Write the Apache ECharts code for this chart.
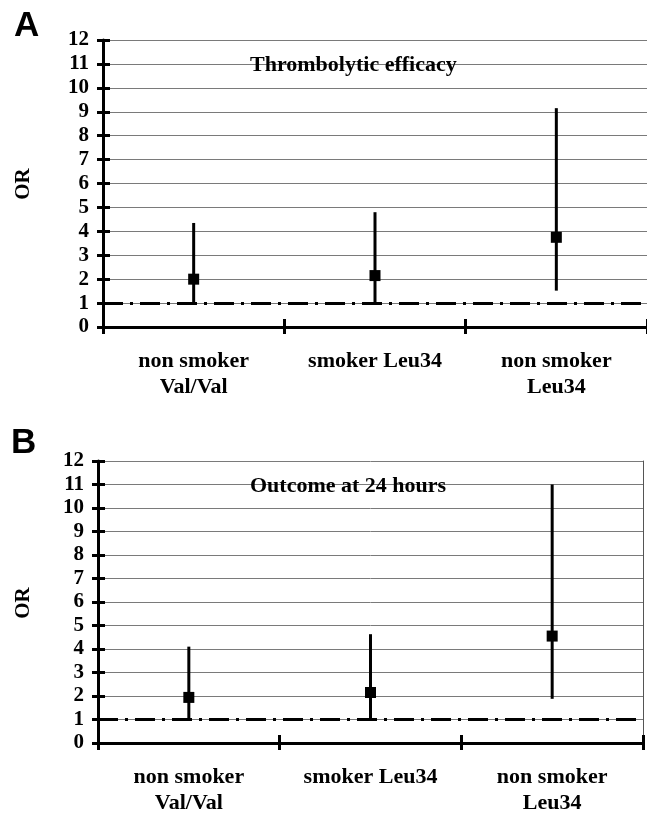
<!DOCTYPE html>
<html>
<head>
<meta charset="utf-8">
<script src="https://cdn.jsdelivr.net/npm/echarts@6/dist/echarts.min.js"></script>
<style>html,body{margin:0;padding:0;background:#fff}#c{width:647px;height:816px}</style>
</head>
<body>
<div id="c"></div>
<script>
const categories = ['non smoker\nVal/Val', 'smoker Leu34', 'non smoker\nLeu34'];
const yMin = 0, yMax = 12, yStep = 1;
const refValue = 1;
const yName = 'OR';
// Panel A: Thrombolytic efficacy
const titleA = 'Thrombolytic efficacy';
const orA = [2.0, 2.15, 3.75];
const lowA = [1.0, 1.0, 1.52];
const highA = [4.35, 4.8, 9.15];
// Panel B: Outcome at 24 hours
const titleB = 'Outcome at 24 hours';
const orB = [1.94, 2.15, 4.55];
const lowB = [1.0, 1.0, 1.88];
const highB = [4.1, 4.63, 11.0];

const serif = '"Liberation Serif", "Times New Roman", serif';
const chart = echarts.init(document.getElementById('c'), null, {renderer: 'canvas'});

function xAxes(grid, inside) {
  return {
    type: 'category', gridIndex: grid, data: categories, position: 'bottom',
    boundaryGap: true,
    axisLine: {show: !inside, lineStyle: {color: '#000', width: 3}},
    axisTick: {show: true, inside: inside, alignWithLabel: false, length: inside ? 8 : 7, lineStyle: {color: '#000', width: 3}},
    axisLabel: {show: !inside, color: '#000', fontFamily: serif, fontWeight: 'bold', fontSize: 22, lineHeight: 26, margin: 21, interval: 0},
    splitLine: {show: false}
  };
}
function yAxes(grid, inside) {
  return {
    type: 'value', gridIndex: grid, position: 'left', min: yMin, max: yMax, interval: yStep,
    axisLine: {show: !inside, lineStyle: {color: '#000', width: 3}},
    axisTick: {show: true, inside: inside, length: inside ? 7 : 6, lineStyle: {color: '#000', width: 3}},
    axisLabel: {show: !inside, color: '#000', fontFamily: serif, fontWeight: 'bold', fontSize: 21, margin: 14},
    splitLine: {show: !inside, lineStyle: {color: '#7a7a7a', width: 1}}
  };
}

function errSeries(xi, yi, lo, hi) {
  return {
    type: 'custom', xAxisIndex: xi, yAxisIndex: yi, silent: true, z: 3,
    data: categories.map((c, i) => [i, lo[i], hi[i]]),
    renderItem: function (params, api) {
      const x = api.value(0);
      const a = api.coord([x, api.value(1)]);
      const b = api.coord([x, api.value(2)]);
      return {type: 'line', shape: {x1: a[0], y1: a[1], x2: b[0], y2: b[1]}, style: {stroke: '#000', lineWidth: 3}};
    }
  };
}
function pointSeries(xi, yi, vals) {
  return {
    type: 'scatter', xAxisIndex: xi, yAxisIndex: yi, data: vals, symbol: 'rect', symbolSize: 11,
    itemStyle: {color: '#000', opacity: 1}, z: 4,
    markLine: {silent: true, symbol: 'none', label: {show: false}, z: 2,
      lineStyle: {color: '#000', width: 3, type: [20, 7, 3, 7], opacity: 1}, data: [{yAxis: refValue}]}
  };
}

const rightBorderB = {
  type: 'value', gridIndex: 1, position: 'right', min: yMin, max: yMax, interval: yStep,
  axisLine: {show: true, lineStyle: {color: '#555', width: 1}},
  axisTick: {show: false}, axisLabel: {show: false}, splitLine: {show: false}
};

chart.setOption({
  animation: false,
  backgroundColor: '#fff',
  grid: [
    {left: 103, top: 40, width: 545, height: 287},
    {left: 98, top: 461, width: 545, height: 286}
  ],
  xAxis: [xAxes(0, false), xAxes(0, true), xAxes(1, false), xAxes(1, true)],
  yAxis: [yAxes(0, false), yAxes(0, true), yAxes(1, false), yAxes(1, true), rightBorderB],
  graphic: [
    {type: 'text', x: 14, y: 26, style: {text: 'A', font: 'bold 35px "Liberation Sans", Arial, sans-serif', fill: '#000', verticalAlign: 'middle'}},
    {type: 'text', x: 11, y: 443, style: {text: 'B', font: 'bold 35px "Liberation Sans", Arial, sans-serif', fill: '#000', verticalAlign: 'middle'}},
    {type: 'text', x: 24, y: 184, rotation: Math.PI / 2, style: {text: yName, font: 'bold 21px ' + serif, fill: '#000', align: 'center', verticalAlign: 'middle'}},
    {type: 'text', x: 24, y: 603, rotation: Math.PI / 2, style: {text: yName, font: 'bold 21px ' + serif, fill: '#000', align: 'center', verticalAlign: 'middle'}},
    {type: 'text', x: 250, y: 65, z: 10, style: {text: titleA, font: 'bold 22px ' + serif, fill: '#000', verticalAlign: 'middle'}},
    {type: 'text', x: 250, y: 486, z: 10, style: {text: titleB, font: 'bold 22px ' + serif, fill: '#000', verticalAlign: 'middle'}}
  ],
  series: [
    errSeries(0, 0, lowA, highA),
    pointSeries(0, 0, orA),
    errSeries(2, 2, lowB, highB),
    pointSeries(2, 2, orB)
  ]
});
</script>
</body>
</html>
